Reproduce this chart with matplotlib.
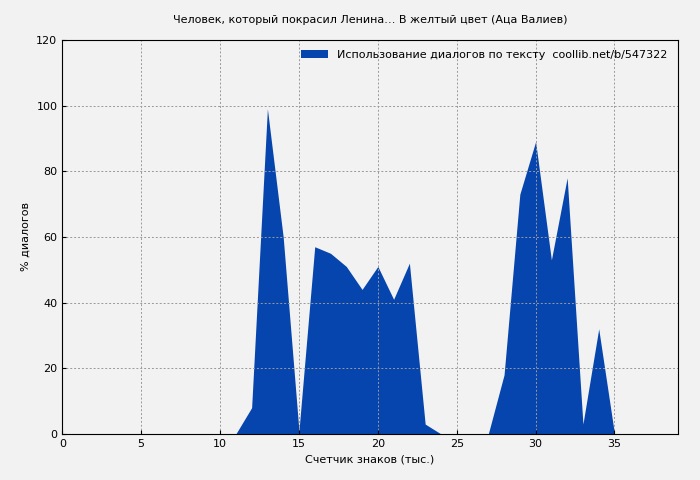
import matplotlib
matplotlib.use("Agg")
import matplotlib.pyplot as plt

# values
x = list(range(0, 40))
y = [0] * 12 + [8, 99, 60, 1, 57, 55, 51, 44, 51, 41, 52, 3, 0, 0, 0, 0,
                18, 73, 89, 53, 78, 3, 32, 0, 0, 0, 0, 0]
title = "Человек, который покрасил Ленина… В желтый цвет (Аца Валиев)"
legend_label = "Использование диалогов по тексту  coollib.net/b/547322"

fig = plt.figure(figsize=(7, 4.8), dpi=100, facecolor="#f2f2f2")
ax = fig.add_axes([0.089, 0.096, 0.879, 0.821])
ax.set_facecolor("#f2f2f2")
ax.fill_between(x, y, 0, color="#0645ad", linewidth=0, label=legend_label)
ax.set_xlim(0, 39)
ax.set_ylim(0, 120)
ax.set_xticks(range(0, 40, 5))
ax.set_yticks(range(0, 121, 20))
ax.grid(True, color="#999999", linestyle=(0, (2, 2)), linewidth=0.7)
ax.tick_params(labelsize=8, direction="in", length=3)
ax.set_xlabel("Счетчик знаков (тыс.)", fontsize=8)
ax.set_ylabel("% диалогов", fontsize=8)
ax.set_title(title, fontsize=8, pad=12)
ax.legend(loc="upper right", fontsize=8, frameon=False, handlelength=2.5)
fig.savefig("out.png", facecolor=fig.get_facecolor())
